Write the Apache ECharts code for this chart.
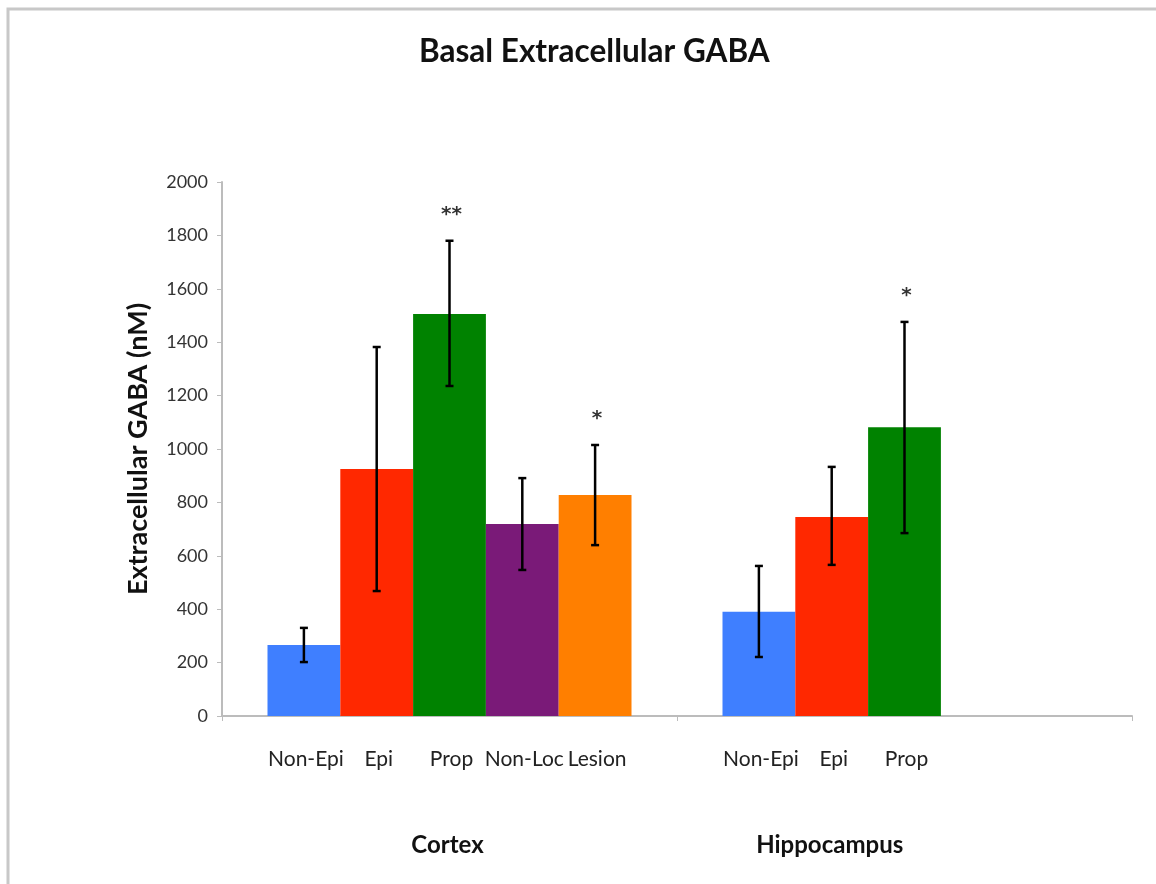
<!DOCTYPE html>
<html>
<head>
<meta charset="utf-8">
<script src="https://cdn.jsdelivr.net/npm/echarts@6/dist/echarts.min.js"></script>
<style>html,body{margin:0;padding:0;background:#fff}#c{width:1156px;height:884px}</style>
</head>
<body>
<div id="c"></div>
<script>
// ---- data ----
var groups = ['Cortex', 'Hippocampus'];
var seriesNames = ['Non-Epi', 'Epi', 'Prop', 'Non-Loc', 'Lesion'];
var seriesColors = ['#3f7fff', '#ff2800', '#008200', '#7a1a78', '#ff7f00'];
// values per series: [Cortex, Hippocampus]
var nonEpi = [266, 390];
var epi = [925, 745];
var prop = [1506, 1081];
var nonLoc = [719, null];
var lesion = [828, null];
// error ranges [low, high] per series: [Cortex, Hippocampus]
var nonEpiErr = [[202, 330], [221, 562]];
var epiErr = [[468, 1382], [566, 933]];
var propErr = [[1236, 1780], [685, 1476]];
var nonLocErr = [[547, 891], null];
var lesionErr = [[640, 1015], null];
// significance marks per series: [Cortex, Hippocampus]
var nonEpiSig = ['', ''];
var epiSig = ['', ''];
var propSig = ['**', '*'];
var nonLocSig = ['', ''];
var lesionSig = ['*', ''];
var yTicks = [0, 200, 400, 600, 800, 1000, 1200, 1400, 1600, 1800, 2000];

var values = [nonEpi, epi, prop, nonLoc, lesion];
var errs = [nonEpiErr, epiErr, propErr, nonLocErr, lesionErr];
var sigs = [nonEpiSig, epiSig, propSig, nonLocSig, lesionSig];

var FONT = 'Lato';
var nS = seriesNames.length;
var catGap = 0.2;

function barCenter(api, cat, s) {
  var c = api.coord([cat, 0]);
  var band = api.size([1, 0])[0];
  var bw = band * (1 - catGap) / nS;
  return { x: c[0] - band * (1 - catGap) / 2 + (s + 0.5) * bw, y0: c[1], bw: bw };
}

var errData = [];
for (var s = 0; s < nS; s++) {
  for (var g = 0; g < groups.length; g++) {
    if (errs[s][g]) errData.push([g, s, errs[s][g][0], errs[s][g][1], sigs[s][g]]);
  }
}
var groupData = [];
for (var g2 = 0; g2 < groups.length; g2++) {
  var present = [];
  for (var s2 = 0; s2 < nS; s2++) if (values[s2][g2] != null) present.push(s2);
  groupData.push([g2, present[0], present[present.length - 1], groups[g2]]);
}

var series = seriesNames.map(function (name, i) {
  return {
    name: name,
    type: 'bar',
    data: values[i].map(function (v) { return v == null ? '-' : v; }),
    barGap: '0%',
    barCategoryGap: (catGap * 100) + '%',
    itemStyle: { color: seriesColors[i] },
    label: {
      show: true, position: 'bottom', distance: 33, offset: [2, 0],
      formatter: function () { return name; },
      fontFamily: FONT, fontSize: 21, color: '#222'
    }
  };
});

series.push({
  type: 'custom',
  name: 'err',
  z: 10,
  data: errData,
  renderItem: function (params, api) {
    var cat = api.value(0), s = api.value(1);
    var bc = barCenter(api, cat, s);
    var lo = api.coord([cat, api.value(2)])[1];
    var hi = api.coord([cat, api.value(3)])[1];
    var cap = 4;
    var st = { stroke: '#000', lineWidth: 2.5 };
    var ch = [
      { type: 'line', shape: { x1: bc.x, y1: lo, x2: bc.x, y2: hi }, style: st },
      { type: 'line', shape: { x1: bc.x - cap, y1: lo, x2: bc.x + cap, y2: lo }, style: st },
      { type: 'line', shape: { x1: bc.x - cap, y1: hi, x2: bc.x + cap, y2: hi }, style: st }
    ];
    var sig = errData[params.dataIndex][4];
    if (sig) {
      ch.push({ type: 'text', style: { text: sig, x: bc.x + 2, y: hi - 26, align: 'center', verticalAlign: 'middle', font: 'bold 20px "DejaVu Sans"', fill: '#333' } });
    }
    return { type: 'group', children: ch };
  }
});

series.push({
  type: 'custom',
  name: 'groups',
  data: groupData,
  renderItem: function (params, api) {
    var cat = api.value(0);
    var a = barCenter(api, cat, api.value(1));
    var b = barCenter(api, cat, api.value(2));
    return {
      type: 'text',
      style: { text: groupData[params.dataIndex][3], x: (a.x + b.x) / 2 - 2, y: a.y0 + 129, align: 'center', verticalAlign: 'middle', font: 'bold 24px ' + FONT, fill: '#111' }
    };
  }
});

var chart = echarts.init(document.getElementById('c'));
chart.setOption({
  animation: false,
  title: {
    text: 'Basal Extracellular GABA', left: 414, top: 31,
    textStyle: { fontFamily: FONT, fontWeight: 'bold', fontSize: 31.5, color: '#111' }
  },
  graphic: [{
    type: 'rect', shape: { x: 8, y: 9, width: 1300, height: 1000 },
    style: { fill: 'none', stroke: '#c8c8c8', lineWidth: 3 }, silent: true
  }],
  grid: { left: 222, right: 24, top: 182, bottom: 168 },
  xAxis: {
    type: 'category', data: groups,
    axisLine: { lineStyle: { color: '#bcbcbc', width: 2 } },
    axisTick: { show: true, alignWithLabel: false, length: 5, lineStyle: { color: '#bcbcbc' } },
    axisLabel: { show: false }
  },
  yAxis: {
    type: 'value', min: yTicks[0], max: yTicks[yTicks.length - 1], interval: yTicks[1] - yTicks[0],
    name: 'Extracellular GABA (nM)', nameLocation: 'middle', nameGap: 70,
    nameTextStyle: { fontFamily: FONT, fontWeight: 'bold', fontSize: 27, color: '#111' },
    axisLine: { show: true, lineStyle: { color: '#bcbcbc', width: 2 } },
    axisTick: { show: true, length: 5, lineStyle: { color: '#bcbcbc' } },
    splitLine: { show: false },
    axisLabel: { fontFamily: FONT, fontSize: 18, color: '#333', margin: 14, formatter: function (v) { return String(v); } }
  },
  series: series
});
</script>
</body>
</html>
